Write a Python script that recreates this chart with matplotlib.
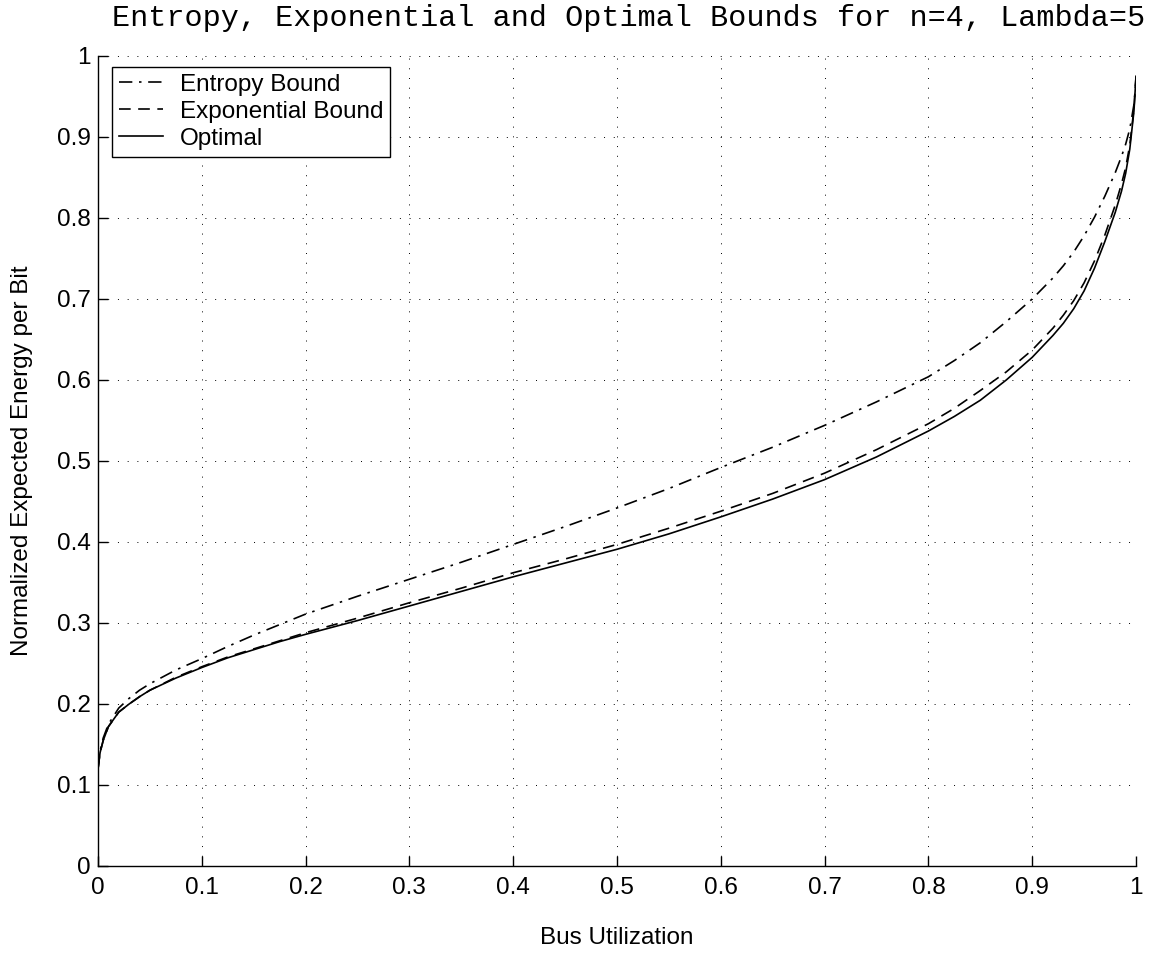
import matplotlib
matplotlib.use('Agg')
import matplotlib.pyplot as plt

# bus utilization sample points
utilization = [0.0, 0.002, 0.005, 0.01, 0.02, 0.03, 0.04, 0.05, 0.075, 0.1, 0.125, 0.15, 0.175,
               0.2, 0.25, 0.3, 0.35, 0.4, 0.45, 0.5, 0.55, 0.6, 0.65, 0.7, 0.75, 0.8, 0.825,
               0.85, 0.875, 0.9, 0.92, 0.93, 0.94, 0.95, 0.96, 0.97, 0.98, 0.986, 0.99,
               0.994, 0.998, 1.0]

# normalized expected energy per bit
entropy_bound = [0.12, 0.142, 0.158, 0.175, 0.195, 0.207, 0.217, 0.225, 0.242, 0.256, 0.271,
                 0.285, 0.298, 0.311, 0.333, 0.354, 0.375, 0.397, 0.419, 0.442, 0.466, 0.492,
                 0.517, 0.544, 0.573, 0.604, 0.624, 0.646, 0.672, 0.70, 0.726, 0.741, 0.758,
                 0.778, 0.801, 0.827, 0.856, 0.876, 0.891, 0.910, 0.94, 0.97]
exponential_bound = [0.12, 0.14, 0.155, 0.172, 0.19, 0.2, 0.209, 0.217, 0.233, 0.246, 0.258,
                     0.268, 0.278, 0.288, 0.306, 0.325, 0.343, 0.362, 0.379, 0.397, 0.417,
                     0.438, 0.46, 0.485, 0.514, 0.546, 0.565, 0.587, 0.61, 0.637, 0.664,
                     0.680, 0.698, 0.72, 0.747, 0.779, 0.816, 0.842, 0.862, 0.89, 0.935, 0.975]
optimal = [0.12, 0.14, 0.155, 0.172, 0.19, 0.2, 0.209, 0.217, 0.232, 0.245, 0.257, 0.267,
           0.277, 0.286, 0.303, 0.321, 0.339, 0.357, 0.374, 0.391, 0.41, 0.431, 0.453,
           0.477, 0.505, 0.537, 0.555, 0.575, 0.60, 0.628, 0.655, 0.670, 0.688, 0.71, 0.738,
           0.771, 0.807, 0.833, 0.855, 0.885, 0.932, 0.975]

tick_values = [0, 0.1, 0.2, 0.3, 0.4, 0.5, 0.6, 0.7, 0.8, 0.9, 1]
tick_labels = ['0', '0.1', '0.2', '0.3', '0.4', '0.5', '0.6', '0.7', '0.8', '0.9', '1']

plt.rcParams['font.family'] = ['Liberation Sans', 'DejaVu Sans']

fig = plt.figure(figsize=(11.49, 9.57), dpi=100)
ax = fig.add_axes([0.0853, 0.0951, 0.9034, 0.8464])

# the three curves
ax.plot(utilization, entropy_bound, color='black', linewidth=1.2,
        linestyle=(0, (8, 4, 1.5, 4)), label='Entropy Bound')
ax.plot(utilization, exponential_bound, color='black', linewidth=1.2,
        linestyle=(0, (7, 4.5)), label='Exponential Bound')
ax.plot(utilization, optimal, color='black', linewidth=1.2,
        linestyle='-', label='Optimal')

ax.set_xlim(0, 1)
ax.set_ylim(0, 1)
ax.set_xticks(tick_values)
ax.set_xticklabels(tick_labels)
ax.set_yticks(tick_values)
ax.set_yticklabels(tick_labels)
ax.tick_params(axis='both', direction='in', length=7, width=1, labelsize=17.5, colors='black')
ax.tick_params(axis='x', pad=8)
ax.tick_params(axis='y', pad=5)

# matlab-ish: box off, dotted grid
ax.spines['top'].set_visible(False)
ax.spines['right'].set_visible(False)
ax.spines['left'].set_linewidth(1.0)
ax.spines['bottom'].set_linewidth(1.0)
ax.grid(True, color='black', linewidth=0.7, linestyle=(0, (1, 9)))
ax.set_axisbelow(True)

ax.set_xlabel('Bus Utilization', fontsize=17.5, va='center')
ax.set_ylabel('Normalized Expected Energy per Bit', fontsize=17.5, va='center')
ax.xaxis.set_label_coords(0.5, (866 - 938) / 810)
ax.yaxis.set_label_coords((22 - 98) / 1038, 0.5)

fig.text(629 / 1149, 1 - 18 / 957,
         'Entropy, Exponential and Optimal Bounds for n=4, Lambda=5',
         family='Liberation Mono', fontsize=21.7, ha='center', va='center')

leg = ax.legend(loc='upper left', bbox_to_anchor=(0.013, 0.987), fontsize=17.5,
                frameon=True, fancybox=False, handlelength=1.8, handletextpad=0.7,
                labelspacing=0.2, borderpad=0.3, borderaxespad=0)
leg.get_frame().set_edgecolor('black')
leg.get_frame().set_linewidth(1.0)
leg.get_frame().set_alpha(1)

fig.savefig('out.png', dpi=100)
